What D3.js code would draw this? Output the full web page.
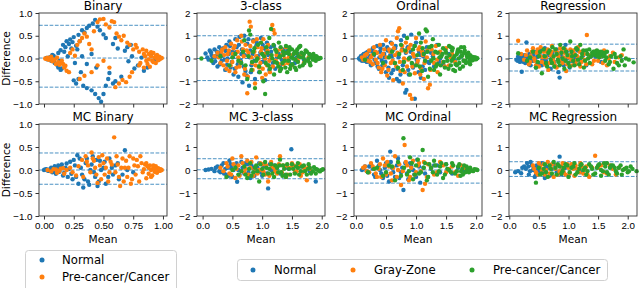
<!DOCTYPE html>
<html>
<head>
<meta charset="utf-8">
<script src="https://cdn.jsdelivr.net/npm/d3@7"></script>
<style>
  body { margin: 0; background: #fff; }
  svg { display: block; font-family: "DejaVu Sans", sans-serif; }
  .tick text { font-size: 9.8px; fill: #000; }
  .tick line, .domain { stroke: #333; }
</style>
</head>
<body>
<div id="chart"></div>
<script>
// panel titles and legend names
const titles = ["Binary", "3-class", "Ordinal", "Regression", "MC Binary", "MC 3-class", "MC Ordinal", "MC Regression"]
const binaryNames = ["Normal", "Pre-cancer/Cancer"]
const threeNames = ["Normal", "Gray-Zone", "Pre-cancer/Cancer"]
const binTicksX = [0, 0.25, 0.5, 0.75, 1]
const binTicksY = [-1, -0.5, 0, 0.5, 1]
const numTicksX = [0, 0.5, 1, 1.5, 2]
const numTicksY = [-2, -1, 0, 1, 2]

// dashed lines per panel: [upper, mean, lower]
const limitLines = [
  [0.73, 0.01, -0.63], [1.0, 0.0, -0.97], [0.99, -0.01, -1.03], [0.63, 0.0, -0.55],
  [0.37, 0.0, -0.31], [0.49, 0.01, -0.38], [0.61, 0.0, -0.57], [0.36, 0.0, -0.28]
]

// [mean, difference]
const binNormal = [[0.02,0.01],[0.03,-0.02],[0.05,0.03],[0.06,-0.05],[0.08,0.06],[0.09,-0.1],[0.11,-0.14],[0.12,-0.2],[0.13,-0.05],[0.14,-0.25],[0.15,-0.22],
  [0.12,0.12],[0.14,0.18],[0.16,0.3],[0.18,0.25],[0.19,0.38],[0.21,0.32],[0.22,0.42],[0.24,0.36],[0.25,0.47],[0.27,0.28],[0.28,0.2],[0.3,0.38],
  [0.34,0.57],[0.36,0.67],[0.38,0.72],[0.41,0.77],[0.43,0.85],[0.45,0.7],[0.47,0.62],[0.5,0.53],[0.52,0.45],
  [0.25,-0.48],[0.27,-0.55],[0.29,-0.45],[0.31,-0.3],[0.33,-0.6],[0.36,-0.65],[0.4,-0.7],[0.43,-0.78],[0.46,-0.87],[0.48,-0.95],[0.5,-0.78],[0.52,-0.6],[0.54,-0.45],[0.55,-0.32],[0.58,-0.55],[0.6,-0.5],
  [0.32,0.05],[0.36,-0.12],[0.4,0.1],[0.44,-0.2],[0.58,0.32],[0.6,0.45],[0.62,0.22],
  [0.68,0.17],[0.71,-0.06],[0.73,0.3],[0.76,-0.22],[0.79,-0.15],[0.82,0.02],[0.84,-0.27],[0.87,-0.2],[0.9,0.08],[0.93,-0.05],
  [0.04,0.0],[0.07,0.08],[0.1,0.02],[0.17,0.15],[0.2,0.05],[0.23,0.22],[0.26,-0.1],[0.29,0.52],[0.32,0.62],[0.65,-0.4],[0.7,0.25],[0.74,0.05]]
const binCancer = [[0.01,0.0],[0.03,0.02],[0.04,-0.03],[0.06,0.04],[0.07,-0.06],[0.09,-0.03],[0.1,-0.12],[0.12,-0.08],[0.14,-0.1],[0.16,-0.12],[0.18,-0.16],[0.19,-0.27],
  [0.22,0.12],[0.24,0.2],[0.26,0.06],[0.28,0.3],[0.3,0.38],[0.32,0.45],[0.34,0.55],[0.36,0.48],[0.38,0.32],[0.4,0.2],[0.42,0.6],
  [0.45,0.8],[0.47,0.86],[0.5,0.87],[0.52,0.75],[0.55,0.68],[0.57,0.82],[0.59,0.8],
  [0.61,0.55],[0.63,0.48],[0.65,0.4],[0.67,0.5],[0.7,0.35],[0.72,0.3],[0.75,0.2],
  [0.21,-0.3],[0.3,-0.45],[0.34,-0.38],[0.4,-0.3],[0.45,-0.15],[0.5,-0.05],[0.55,-0.2],[0.6,-0.63],[0.63,-0.55],[0.66,-0.47],[0.69,-0.52],[0.72,-0.4],
  [0.78,0.24],[0.8,0.15],[0.81,-0.1],[0.83,0.2],[0.84,-0.2],[0.85,0.05],[0.86,0.17],[0.87,-0.12],[0.88,0.1],[0.89,-0.18],[0.9,0.14],[0.91,-0.05],[0.92,0.12],[0.93,0.02],[0.94,-0.1],[0.95,0.08],[0.96,-0.04],[0.97,0.04],[0.98,0.0],[0.99,0.01],[0.95,0.0],[0.97,-0.02],
  [0.02,-0.01],[0.05,0.0],[0.08,-0.02],[0.11,0.02],[0.13,-0.14],[0.15,-0.05],[0.17,-0.2],[0.84,0.1],[0.86,-0.05],[0.88,-0.02],[0.9,0.05],[0.92,-0.08],[0.94,0.05],[0.96,0.02],[0.74,-0.3],[0.77,0.3],[0.8,-0.15]]

const c3Normal = [[0.05,0.22],[0.08,0.05],[0.1,-0.05],[0.12,0.35],[0.15,0.15],[0.18,-0.2],[0.2,0.4],[0.22,0.1],[0.25,-0.35],[0.28,0.5],[0.3,0.25],[0.32,-0.1],[0.35,0.45],[0.38,-0.5],[0.4,0.6],[0.42,0.0],[0.45,0.75],[0.47,-0.4],[0.5,0.3],[0.52,-0.7],[0.55,0.85],[0.57,0.5],[0.6,-0.8],[0.62,0.95],[0.65,0.2],[0.67,-1.05],[0.7,1.0],[0.72,-0.55],[0.75,0.65],[0.78,-1.2],[0.8,0.35],[0.82,-0.3],[0.85,0.8],[0.88,-0.9],[0.9,0.55],[0.93,0.1],[0.95,-0.6],[0.98,0.9],[1.0,-0.15],[1.03,0.45],[1.05,-0.95],[1.08,0.7],[1.1,0.15],[1.12,-0.5],[1.15,0.3],[1.18,-0.2],[1.2,0.55],[1.25,0.05],[1.3,-0.3],[1.35,0.4],[1.4,0.25],[1.45,-0.1],[1.5,0.1],[1.55,-0.2],[1.6,0.2],[1.7,-0.05],[1.8,0.1],
  [0.14,0.28],[0.17,0.05],[0.21,-0.12],[0.24,0.3],[0.27,0.18],[0.29,-0.25],[0.31,0.42],[0.34,0.12],[0.37,-0.05],[0.39,0.33],[0.41,-0.28],[0.44,0.2],[0.46,0.55],[0.49,-0.15],[0.51,0.05],[0.54,-0.45],[0.56,0.28],[0.59,-0.25],[0.61,0.6],[0.64,-0.1],[0.66,0.4],[0.69,-0.35],[0.71,0.15],[0.74,-0.75],[0.77,0.85],[0.79,0.05],[0.81,-0.6],[0.84,0.2],[0.87,-0.1],[0.91,0.7],[0.94,-0.35],[0.97,0.25],[1.01,0.6],[1.04,-0.05],[1.07,0.35],[1.11,-0.3],[1.14,0.5],[1.22,-0.45],[1.28,0.2],[1.33,-0.05],[1.42,0.35],[1.48,-0.25],[1.58,0.05]]
const c3Gray = [[0.2,0.1],[0.25,0.25],[0.3,-0.2],[0.33,0.4],[0.35,-0.3],[0.38,0.5],[0.4,-0.45],[0.42,0.2],[0.45,-0.55],[0.48,0.65],[0.5,-0.15],[0.52,0.45],[0.55,-0.6],[0.58,0.8],[0.6,0.05],[0.62,-0.35],[0.65,1.0],[0.68,0.4],[0.7,-0.7],[0.72,0.6],[0.75,-1.53],[0.77,0.25],[0.79,1.62],[0.81,1.4],[0.83,-0.2],[0.85,0.75],[0.88,-1.1],[0.9,0.1],[0.92,0.5],[0.95,-0.4],[0.98,0.3],[1.0,-0.85],[1.02,0.85],[1.05,0.0],[1.08,-0.3],[1.1,0.6],[1.13,-0.6],[1.17,1.47],[1.19,1.25],[1.21,1.1],[1.23,-0.1],[1.26,0.35],[1.3,-0.5],[1.33,0.15],[1.36,-0.25],[1.4,0.5],[1.45,0.05],[1.5,-0.3],[1.55,0.25],[1.6,-0.1],[1.65,0.15],[1.7,-0.2],[1.78,0.05],[1.85,0.1],[1.92,0.0],
  [0.27,0.05],[0.32,0.3],[0.36,0.15],[0.41,-0.1],[0.44,0.35],[0.47,-0.3],[0.51,0.2],[0.54,0.55],[0.57,-0.4],[0.59,0.3],[0.63,-0.15],[0.66,0.75],[0.69,0.1],[0.71,-0.45],[0.74,0.35],[0.76,-0.8],[0.8,0.55],[0.82,0.05],[0.84,-0.5],[0.87,0.3],[0.89,-0.3],[0.91,0.85],[0.94,0.0],[0.97,-0.2],[0.99,0.45],[1.01,-0.45],[1.04,0.2],[1.06,-0.7],[1.09,0.35],[1.12,-0.1],[1.15,0.05],[1.18,-0.35],[1.24,0.15],[1.28,-0.25],[1.32,0.4],[1.38,0.0],[1.43,-0.2],[1.48,0.15],[1.58,-0.05],[1.68,0.1]]
const c3Cancer = [[-0.02,0.0],[0.15,-0.1],[0.3,0.1],[0.45,-0.3],[0.55,0.2],[0.65,-0.2],[0.7,0.8],[0.75,-0.9],[0.78,1.23],[0.8,1.05],[0.82,-0.5],[0.85,0.3],[0.88,-1.3],[0.9,-0.1],[0.93,0.6],[0.96,-0.6],[1.0,0.2],[1.02,-1.0],[1.05,-1.56],[1.07,0.5],[1.1,-0.3],[1.12,0.9],[1.15,1.3],[1.17,0.0],[1.2,-0.7],[1.22,0.4],[1.25,-0.2],[1.28,0.7],[1.3,0.1],[1.32,-0.45],[1.35,0.3],[1.38,-0.1],[1.4,0.55],[1.42,-0.6],[1.45,0.2],[1.48,-0.3],[1.5,0.4],[1.52,0.0],[1.55,-0.4],[1.58,0.25],[1.6,-0.15],[1.62,0.5],[1.65,0.05],[1.68,-0.3],[1.7,0.2],[1.72,-0.1],[1.75,0.3],[1.78,0.0],[1.8,-0.2],[1.82,0.15],[1.85,-0.05],[1.88,0.1],[1.9,-0.1],[1.93,0.05],[1.96,0.0],[1.98,0.02],[1.45,0.35],[1.55,0.3],[1.3,-0.55],
  [0.5,0.05],[0.6,-0.1],[0.68,0.3],[0.72,-0.3],[0.77,0.1],[0.83,-0.15],[0.87,0.45],[0.92,0.0],[0.95,-0.35],[0.98,0.7],[1.03,0.1],[1.06,-0.2],[1.09,0.25],[1.13,-0.45],[1.16,0.15],[1.19,0.6],[1.21,-0.15],[1.24,0.3],[1.27,-0.35],[1.29,0.05],[1.31,0.5],[1.34,-0.2],[1.36,0.15],[1.39,-0.4],[1.41,0.25],[1.44,-0.1],[1.46,0.5],[1.49,0.05],[1.51,-0.25],[1.53,0.2],[1.56,-0.05],[1.59,0.4],[1.61,0.1],[1.63,-0.35],[1.66,0.25],[1.69,0.05],[1.71,-0.2],[1.73,0.35],[1.77,-0.1],[1.79,0.2],[1.81,-0.3],[1.83,0.05],[1.86,0.2],[1.89,-0.05],[1.91,0.1],[1.94,-0.02],[1.57,-0.5],[1.47,-0.45],[1.64,0.55]]

const ordNormal = [[0.05,0.0],[0.08,0.1],[0.1,-0.1],[0.13,0.2],[0.15,0.05],[0.18,-0.15],[0.2,0.3],[0.23,0.1],[0.25,-0.3],[0.28,0.45],[0.3,0.15],[0.33,-0.2],[0.35,0.55],[0.38,-0.45],[0.4,0.3],[0.43,-0.1],[0.45,0.6],[0.48,0.05],[0.5,-0.6],[0.53,0.35],[0.55,-0.85],[0.58,0.7],[0.6,0.1],[0.62,-0.5],[0.65,0.45],[0.68,-0.9],[0.7,0.2],[0.72,-1.0],[0.75,0.8],[0.78,-0.3],[0.8,1.0],[0.82,-1.5],[0.84,-1.38],[0.86,0.5],[0.88,-0.7],[0.9,0.05],[0.92,1.05],[0.95,-0.4],[0.98,-1.77],[1.0,0.7],[1.02,-0.2],[1.05,0.3],[1.08,-0.85],[1.1,0.9],[1.12,0.1],[1.15,-0.5],[1.18,0.5],[1.2,-0.15],[1.25,0.25],[1.3,-0.35],[1.35,0.6],[1.4,0.0],[1.45,-0.25],[1.55,0.2],[1.65,-0.1],[1.75,0.1],
  [0.07,-0.05],[0.11,0.15],[0.14,-0.1],[0.17,0.25],[0.21,0.0],[0.24,-0.2],[0.27,0.3],[0.31,-0.05],[0.34,0.25],[0.36,-0.35],[0.39,0.05],[0.41,0.45],[0.44,-0.3],[0.47,0.2],[0.49,-0.15],[0.52,0.5],[0.54,-0.4],[0.57,0.15],[0.59,-0.65],[0.61,0.35],[0.64,-0.2],[0.66,0.55],[0.69,-0.45],[0.71,0.05],[0.74,-0.7],[0.77,0.4],[0.79,-0.15],[0.83,0.25],[0.87,-0.5],[0.91,0.3],[0.94,-0.25],[0.97,0.55],[1.01,-0.05],[1.04,-0.6],[1.07,0.15],[1.11,-0.35],[1.16,0.3],[1.22,-0.2],[1.28,0.1],[1.38,-0.15]]
const ordGray = [[0.1,0.05],[0.12,-0.05],[0.15,0.15],[0.2,-0.1],[0.22,0.35],[0.25,0.05],[0.28,-0.25],[0.3,0.5],[0.33,-0.05],[0.35,0.25],[0.38,-0.4],[0.4,0.6],[0.42,-0.6],[0.45,0.2],[0.48,-0.3],[0.5,0.8],[0.52,-0.75],[0.55,0.4],[0.58,-0.2],[0.6,0.65],[0.62,-0.95],[0.65,0.15],[0.68,0.9],[0.7,1.2],[0.72,1.33],[0.74,-0.55],[0.76,0.35],[0.78,-1.1],[0.8,0.0],[0.83,0.7],[0.85,-0.35],[0.88,0.45],[0.9,-1.6],[0.93,-1.77],[0.95,0.2],[0.98,-0.65],[1.0,0.9],[1.03,-0.1],[1.06,0.5],[1.08,-0.45],[1.1,0.3],[1.13,-0.9],[1.16,0.75],[1.18,0.05],[1.2,-1.31],[1.23,-1.15],[1.26,0.4],[1.3,-0.2],[1.33,0.55],[1.36,-0.6],[1.4,0.3],[1.45,-0.15],[1.5,0.45],[1.55,-0.3],[1.6,0.2],[1.7,0.35],[1.8,-0.1],
  [0.14,0.0],[0.18,0.2],[0.24,-0.15],[0.27,0.15],[0.32,0.3],[0.36,-0.2],[0.41,0.1],[0.44,-0.45],[0.47,0.4],[0.51,0.05],[0.54,-0.5],[0.57,0.3],[0.61,-0.1],[0.63,0.45],[0.67,-0.35],[0.69,0.25],[0.73,-0.15],[0.77,0.55],[0.81,-0.6],[0.84,0.3],[0.87,-0.05],[0.91,0.6],[0.94,-0.35],[0.97,0.1],[1.01,-0.25],[1.04,0.4],[1.07,-0.7],[1.11,0.15],[1.14,-0.2],[1.19,0.35],[1.24,-0.5],[1.29,0.2],[1.35,-0.05],[1.42,0.2],[1.48,-0.35],[1.57,0.05],[1.65,-0.15]]
const ordCancer = [[0.15,-0.05],[0.3,0.2],[0.45,-0.2],[0.6,0.3],[0.7,-0.4],[0.75,0.6],[0.8,-0.15],[0.85,0.9],[0.9,-0.7],[0.95,0.4],[1.0,-0.3],[1.05,1.1],[1.08,0.7],[1.1,-0.55],[1.13,0.2],[1.16,1.28],[1.18,1.2],[1.2,-0.8],[1.22,0.5],[1.25,-0.1],[1.28,0.85],[1.3,-0.5],[1.32,0.3],[1.35,-0.25],[1.38,0.6],[1.4,-0.7],[1.42,0.1],[1.45,0.45],[1.48,-0.4],[1.5,0.25],[1.52,-0.1],[1.55,0.55],[1.58,-0.3],[1.6,0.35],[1.62,0.0],[1.65,-0.55],[1.68,0.2],[1.7,0.4],[1.72,-0.2],[1.74,0.3],[1.76,0.1],[1.78,-0.35],[1.8,0.25],[1.82,-0.1],[1.84,0.2],[1.86,0.05],[1.88,-0.15],[1.9,0.15],[1.92,0.0],[1.94,-0.08],[1.96,0.06],[1.98,0.02],[2.0,-0.03],[2.02,0.01],[1.75,0.5],[1.68,-0.3],[1.58,0.5],
  [0.55,0.05],[0.65,-0.2],[0.72,0.2],[0.78,-0.5],[0.82,0.35],[0.88,0.0],[0.93,-0.2],[0.98,0.55],[1.02,0.15],[1.06,-0.35],[1.11,0.45],[1.15,-0.1],[1.19,0.3],[1.23,-0.45],[1.26,0.55],[1.29,0.0],[1.33,-0.35],[1.36,0.25],[1.39,0.05],[1.41,-0.3],[1.44,0.2],[1.46,-0.15],[1.49,0.35],[1.51,0.05],[1.54,-0.45],[1.56,0.15],[1.59,-0.1],[1.61,0.45],[1.64,0.1],[1.66,-0.25],[1.69,0.3],[1.71,0.0],[1.73,-0.45],[1.77,0.15],[1.79,-0.1],[1.81,0.35],[1.83,-0.2],[1.85,0.1],[1.87,0.25],[1.89,0.0],[1.91,-0.1],[1.93,0.08],[1.95,0.0],[1.97,-0.04],[1.99,0.05],[1.9,-0.25],[1.8,0.5],[1.62,-0.5]]

const regNormal = [[0.12,-0.05],[0.15,0.1],[0.18,-0.15],[0.2,0.05],[0.21,-0.58],[0.23,-0.1],[0.25,0.15],[0.27,-0.2],[0.29,0.71],[0.3,0.0],[0.32,-0.12],[0.34,0.2],[0.36,-0.3],[0.38,0.05],[0.4,-0.1],[0.42,0.3],[0.45,-0.4],[0.48,0.1],[0.5,-0.2],[0.53,0.35],[0.56,-0.05],[0.6,0.45],[0.63,-0.3],[0.66,0.15],[0.7,-0.45],[0.73,0.25],[0.76,-0.15],[0.8,0.4],[0.83,-0.6],[0.85,-0.84],[0.88,0.1],[0.92,-0.3],[0.95,0.6],[0.98,0.0],[1.02,-0.4],[1.06,0.2],[1.1,-0.2],[1.15,0.35],[1.2,-0.1],[1.25,0.15],[1.3,-0.3],[1.35,0.05],[1.45,0.1],[1.55,-0.15],
  [0.14,-0.1],[0.16,0.05],[0.19,-0.05],[0.22,0.1],[0.24,-0.15],[0.26,0.0],[0.28,-0.05],[0.31,0.1],[0.33,-0.25],[0.35,0.05],[0.37,-0.1],[0.41,0.15],[0.44,0.0],[0.47,-0.25],[0.51,0.2],[0.55,-0.3],[0.58,0.1],[0.62,-0.1],[0.68,0.3],[0.71,0.0],[0.78,-0.35],[0.82,0.15],[0.9,-0.15],[0.97,0.3],[1.05,-0.1],[1.12,0.05]]
const regGray = [[0.15,0.78],[0.2,0.2],[0.25,-0.05],[0.3,0.35],[0.33,-0.25],[0.36,0.1],[0.4,0.45],[0.43,-0.1],[0.46,0.25],[0.5,-0.35],[0.53,0.5],[0.56,0.05],[0.6,-0.25],[0.63,0.3],[0.66,-0.5],[0.7,0.15],[0.72,0.55],[0.75,-0.15],[0.78,0.35],[0.8,-0.4],[0.83,0.1],[0.86,0.45],[0.9,-0.2],[0.93,0.25],[0.96,-0.55],[1.0,0.05],[1.03,0.4],[1.06,-0.3],[1.1,0.2],[1.13,-0.1],[1.16,0.5],[1.2,-0.35],[1.23,0.3],[1.27,-0.05],[1.31,1.03],[1.35,0.15],[1.4,-0.25],[1.45,0.3],[1.5,-0.1],[1.55,0.1],[1.6,0.35],[1.65,-0.3],[1.7,0.1],[1.78,-0.15],[1.85,0.05],[1.9,0.15],
  [0.28,0.15],[0.35,-0.15],[0.38,0.3],[0.42,0.0],[0.45,-0.3],[0.48,0.4],[0.52,0.1],[0.55,-0.15],[0.58,0.3],[0.62,0.05],[0.65,0.4],[0.68,-0.2],[0.71,0.3],[0.74,0.0],[0.77,-0.3],[0.81,0.25],[0.85,-0.1],[0.88,0.3],[0.92,0.05],[0.95,0.4],[0.98,-0.25],[1.02,0.15],[1.05,-0.05],[1.08,0.35],[1.12,-0.25],[1.15,0.1],[1.19,0.3],[1.22,-0.15],[1.26,0.2],[1.3,-0.25],[1.38,0.1],[1.43,-0.1],[1.52,0.25],[1.58,-0.2],[1.68,0.0],[1.75,0.25]]
const regCancer = [[0.15,0.23],[0.3,-0.1],[0.4,0.3],[0.45,-0.4],[0.5,0.1],[0.55,-0.65],[0.58,0.4],[0.62,-0.2],[0.66,0.25],[0.7,-0.05],[0.73,0.5],[0.76,-0.35],[0.8,0.2],[0.83,-0.15],[0.86,0.6],[0.9,0.0],[0.93,-0.45],[0.96,0.3],[1.0,-0.2],[1.03,0.75],[1.06,0.1],[1.1,-0.3],[1.13,0.45],[1.16,-0.05],[1.2,0.6],[1.23,0.2],[1.26,-0.4],[1.3,0.35],[1.33,0.0],[1.36,-0.2],[1.4,0.25],[1.42,0.3],[1.45,0.15],[1.48,0.35],[1.5,0.2],[1.52,0.05],[1.55,0.3],[1.58,0.15],[1.6,0.25],[1.62,-0.1],[1.65,0.3],[1.68,-0.25],[1.72,0.1],[1.76,-0.45],[1.8,0.05],[1.85,-0.3],[1.9,-0.1],[1.93,0.4],[1.97,0.0],[2.02,-0.05],[2.1,-0.17],
  [0.35,0.05],[0.48,-0.15],[0.52,0.3],[0.6,0.1],[0.64,-0.35],[0.68,0.35],[0.72,-0.2],[0.75,0.1],[0.78,0.4],[0.82,-0.05],[0.85,-0.3],[0.88,0.25],[0.92,0.45],[0.95,-0.1],[0.98,0.15],[1.02,-0.35],[1.05,0.3],[1.08,-0.1],[1.12,0.15],[1.15,0.4],[1.18,-0.25],[1.22,0.05],[1.25,0.35],[1.28,-0.1],[1.32,0.2],[1.35,0.4],[1.38,0.1],[1.41,0.2],[1.44,0.3],[1.46,0.25],[1.49,0.1],[1.51,0.3],[1.54,0.2],[1.57,0.25],[1.59,0.1],[1.61,0.2],[1.64,0.05],[1.7,-0.15],[1.78,0.2],[1.82,-0.2],[1.88,0.1],[1.95,-0.3]]

const mcBinNormal = [[0.0,0.0],[0.02,0.02],[0.04,-0.02],[0.06,0.05],[0.07,-0.05],[0.09,0.08],[0.1,-0.08],[0.12,0.1],[0.13,-0.04],[0.15,0.12],[0.16,-0.12],[0.18,0.05],[0.2,-0.15],[0.22,0.18],[0.24,-0.2],[0.26,0.1],[0.28,0.32],[0.29,-0.3],[0.3,0.25],[0.32,-0.1],[0.33,-0.38],[0.35,0.15],[0.37,-0.25],[0.39,0.0],[0.41,0.3],[0.43,-0.15],[0.45,-0.35],[0.47,0.2],[0.5,0.05],[0.52,-0.3],[0.55,0.25],[0.58,-0.1],[0.6,0.1],[0.63,-0.2],[0.68,0.43],[0.7,0.0],[0.75,-0.05],
  [0.01,0.01],[0.03,-0.01],[0.05,0.02],[0.08,-0.04],[0.11,0.03],[0.14,0.06],[0.17,-0.06],[0.19,0.14],[0.21,0.02],[0.23,-0.08],[0.25,0.22],[0.27,-0.15],[0.31,0.05],[0.34,-0.2],[0.36,0.25],[0.38,-0.32],[0.4,0.12],[0.42,-0.05],[0.44,0.22],[0.46,-0.25],[0.48,0.0],[0.51,0.18],[0.54,-0.15],[0.57,0.05],[0.62,0.15],[0.66,-0.1]]
const mcBinCancer = [[0.03,0.0],[0.06,-0.03],[0.08,0.02],[0.11,-0.06],[0.14,0.03],[0.17,-0.08],[0.22,0.05],[0.27,-0.12],[0.32,0.22],[0.35,0.3],[0.37,0.1],[0.4,0.38],[0.42,0.2],[0.44,-0.1],[0.46,0.28],[0.48,-0.2],[0.5,0.15],[0.52,0.05],[0.54,-0.25],[0.56,0.18],[0.59,0.71],[0.6,-0.05],[0.62,0.12],[0.64,-0.35],[0.66,0.25],[0.68,0.05],[0.7,-0.15],[0.72,0.3],[0.74,-0.2],[0.76,0.1],[0.78,0.22],[0.8,-0.25],[0.82,0.15],[0.83,-0.05],[0.85,0.12],[0.86,-0.18],[0.87,0.08],[0.88,-0.08],[0.89,0.1],[0.9,0.0],[0.91,-0.12],[0.92,0.06],[0.93,-0.04],[0.94,0.08],[0.95,-0.06],[0.96,0.04],[0.97,-0.02],[0.98,0.02],[0.99,0.0],[0.93,0.03],[0.96,-0.01],
  [0.1,0.01],[0.13,-0.02],[0.16,0.04],[0.19,0.0],[0.24,-0.05],[0.29,0.08],[0.33,-0.15],[0.36,0.18],[0.39,-0.05],[0.41,0.25],[0.43,0.05],[0.45,-0.28],[0.47,0.1],[0.49,0.32],[0.51,-0.1],[0.53,0.25],[0.55,-0.05],[0.57,0.12],[0.61,0.3],[0.63,-0.15],[0.65,0.05],[0.67,-0.25],[0.69,0.2],[0.71,0.05],[0.73,-0.3],[0.75,0.25],[0.77,-0.1],[0.79,0.08],[0.81,0.3],[0.84,0.02],[0.86,0.15],[0.88,0.05],[0.9,-0.15],[0.92,0.1],[0.94,-0.03],[0.97,0.01],[0.98,-0.01]]

const mc3Normal = [[0.05,0.0],[0.1,0.02],[0.2,-0.05],[0.25,0.15],[0.3,-0.1],[0.35,0.3],[0.38,0.05],[0.4,-0.2],[0.45,0.4],[0.48,0.1],[0.5,-0.3],[0.55,0.2],[0.58,-0.51],[0.6,0.0],[0.65,0.35],[0.7,-0.15],[0.75,0.25],[0.8,-0.35],[0.85,0.1],[0.9,-0.05],[0.95,0.3],[1.0,-0.25],[1.05,0.15],[1.1,-0.8],[1.15,0.0],[1.2,0.2],[1.3,-0.15],[1.4,0.1],[1.49,0.9],[1.55,-0.1],[1.65,0.15],[1.8,-0.05],[1.9,-0.5],
  [0.15,0.05],[0.22,0.1],[0.28,-0.05],[0.32,0.2],[0.36,-0.15],[0.42,0.1],[0.44,-0.25],[0.47,0.25],[0.52,0.0],[0.57,0.3],[0.62,-0.2],[0.67,0.1],[0.72,0.3],[0.77,-0.1],[0.82,0.2],[0.87,-0.25],[0.92,0.1],[0.97,-0.1],[1.02,0.2],[1.08,-0.15],[1.13,0.25],[1.18,-0.05],[1.25,0.1],[1.35,-0.2],[1.45,0.05]]
const mc3Gray = [[0.3,0.1],[0.4,0.3],[0.45,-0.15],[0.5,0.5],[0.55,-0.35],[0.6,0.2],[0.65,0.6],[0.7,-0.1],[0.75,0.4],[0.8,0.1],[0.85,-0.25],[0.9,0.55],[0.95,0.0],[1.0,0.25],[1.05,-0.2],[1.1,-0.5],[1.15,0.35],[1.2,0.1],[1.25,-0.15],[1.3,0.6],[1.35,0.2],[1.4,-0.3],[1.45,0.1],[1.5,0.3],[1.55,-0.1],[1.6,0.15],[1.65,-0.25],[1.7,0.1],[1.75,-0.45],[1.8,0.05],
  [0.35,-0.05],[0.42,0.15],[0.48,-0.2],[0.52,0.25],[0.57,0.05],[0.62,-0.25],[0.67,0.3],[0.72,0.05],[0.77,-0.2],[0.82,0.35],[0.87,0.05],[0.92,-0.15],[0.97,0.3],[1.02,-0.05],[1.07,0.2],[1.12,-0.25],[1.17,0.15],[1.22,-0.05],[1.28,0.25],[1.33,-0.1],[1.38,0.15],[1.43,-0.2],[1.48,0.1],[1.53,0.2],[1.58,-0.05],[1.63,0.25],[1.68,-0.1],[1.73,0.05],[1.78,0.15]]
const mc3Cancer = [[0.4,-0.3],[0.5,0.0],[0.6,-0.2],[0.7,0.15],[0.75,-0.35],[0.8,0.3],[0.85,-0.1],[0.9,0.2],[0.95,-0.5],[1.0,0.05],[1.05,0.35],[1.1,-0.15],[1.15,0.25],[1.2,-0.3],[1.25,0.1],[1.3,0.45],[1.32,-0.1],[1.35,0.2],[1.4,-0.2],[1.45,0.05],[1.5,0.25],[1.55,-0.15],[1.6,0.1],[1.65,-0.05],[1.7,0.2],[1.75,-0.2],[1.8,0.1],[1.85,-0.05],[1.9,0.05],[1.95,-0.02],[2.0,0.0],[1.9,-0.15],[1.78,0.25],
  [0.55,0.1],[0.65,-0.05],[0.72,-0.2],[0.78,0.05],[0.82,-0.25],[0.88,0.1],[0.92,-0.05],[0.97,0.25],[1.02,-0.2],[1.07,0.1],[1.12,0.05],[1.17,-0.15],[1.22,0.2],[1.27,-0.1],[1.29,0.2],[1.34,-0.25],[1.37,0.05],[1.42,0.25],[1.47,-0.2],[1.52,0.05],[1.57,0.15],[1.62,-0.2],[1.67,0.15],[1.72,-0.05],[1.77,0.05],[1.82,-0.15],[1.87,0.12],[1.92,0.02],[1.97,-0.06],[2.02,0.03],[1.6,0.3],[1.4,-0.3]]

const mcOrdNormal = [[0.1,0.0],[0.15,0.15],[0.2,-0.1],[0.25,0.25],[0.3,-0.2],[0.35,0.4],[0.4,0.0],[0.45,-0.35],[0.5,0.3],[0.55,-0.5],[0.57,0.8],[0.6,0.1],[0.65,-0.3],[0.7,0.5],[0.75,-0.1],[0.79,-0.87],[0.82,0.3],[0.87,-0.4],[0.92,0.15],[0.97,-0.2],[1.02,0.45],[1.07,-0.55],[1.12,0.1],[1.2,-0.3],[1.3,0.2],[1.4,-0.1],[1.5,0.25],[1.6,-0.15],[1.7,0.1],[1.8,-0.05],
  [0.12,0.05],[0.18,-0.05],[0.22,0.15],[0.28,0.05],[0.32,-0.3],[0.38,0.2],[0.42,-0.15],[0.48,0.1],[0.52,-0.25],[0.58,0.35],[0.62,-0.1],[0.68,0.2],[0.72,-0.35],[0.77,0.1],[0.85,-0.15],[0.9,0.3],[0.95,0.0],[1.0,-0.3],[1.05,0.15],[1.15,-0.15],[1.25,0.05],[1.35,0.2]]
const mcOrdGray = [[0.12,0.1],[0.18,-0.05],[0.25,0.3],[0.3,0.05],[0.35,-0.3],[0.4,0.25],[0.45,0.5],[0.5,-0.2],[0.55,0.15],[0.6,-0.45],[0.65,0.6],[0.7,0.0],[0.75,-0.65],[0.81,1.09],[0.85,0.2],[0.9,-0.3],[0.95,0.4],[1.0,-0.1],[1.05,0.3],[1.11,-0.87],[1.15,-0.6],[1.2,0.25],[1.3,-0.2],[1.4,0.35],[1.5,-0.1],[1.6,0.15],[1.7,-0.25],[1.8,0.1],[1.9,0.05],
  [0.15,0.15],[0.22,-0.1],[0.28,0.15],[0.33,-0.15],[0.38,0.05],[0.42,-0.3],[0.48,0.2],[0.52,0.35],[0.58,-0.15],[0.62,0.1],[0.68,-0.3],[0.72,0.25],[0.78,-0.05],[0.83,0.35],[0.88,-0.45],[0.92,0.1],[0.98,-0.2],[1.03,0.2],[1.08,-0.05],[1.13,0.35],[1.18,-0.3],[1.25,0.1],[1.35,-0.1],[1.45,0.2],[1.55,0.05],[1.65,-0.1],[1.75,0.2]]
const mcOrdCancer = [[0.2,-0.1],[0.35,0.1],[0.45,-0.25],[0.55,0.2],[0.65,-0.45],[0.7,0.35],[0.79,1.38],[0.85,-0.2],[0.9,0.55],[0.95,-0.4],[1.0,0.2],[1.05,-0.15],[1.11,0.87],[1.15,0.3],[1.2,-0.3],[1.25,0.1],[1.3,0.4],[1.35,-0.2],[1.4,0.15],[1.45,-0.35],[1.5,0.25],[1.55,0.0],[1.6,0.3],[1.65,-0.15],[1.7,0.15],[1.75,-0.05],[1.8,0.2],[1.85,0.0],[1.9,0.1],[1.95,-0.05],[2.0,0.02],[1.88,-0.1],[1.78,-0.2],
  [0.3,0.05],[0.5,-0.1],[0.6,0.15],[0.75,-0.25],[0.8,0.1],[0.88,-0.05],[0.93,0.3],[0.98,-0.2],[1.03,0.45],[1.08,-0.1],[1.13,0.1],[1.18,-0.45],[1.22,0.25],[1.28,-0.1],[1.32,0.2],[1.38,-0.05],[1.42,0.3],[1.48,-0.2],[1.52,0.05],[1.58,-0.1],[1.62,0.2],[1.68,-0.05],[1.72,0.25],[1.77,0.05],[1.82,-0.1],[1.87,0.05],[1.92,-0.02],[1.97,0.03],[2.02,0.0],[1.84,0.15],[1.74,-0.25]]

const mcRegNormal = [[0.1,-0.1],[0.2,-0.14],[0.25,0.15],[0.28,0.05],[0.3,0.3],[0.33,-0.2],[0.36,0.35],[0.4,0.0],[0.43,-0.3],[0.46,0.2],[0.5,-0.05],[0.55,0.3],[0.6,-0.35],[0.65,0.1],[0.7,-0.2],[0.75,0.25],[0.8,-0.1],[0.85,0.58],[0.9,0.05],[1.0,-0.25],[1.1,0.1],[1.2,-0.1],
  [0.15,-0.05],[0.22,0.1],[0.32,0.15],[0.35,-0.05],[0.38,0.2],[0.42,0.1],[0.45,-0.2],[0.48,0.05],[0.52,0.2],[0.58,-0.1],[0.62,0.15],[0.68,-0.25],[0.72,0.05],[0.78,0.2],[0.88,-0.2],[0.95,0.1]]
const mcRegGray = [[0.4,0.2],[0.45,-0.1],[0.5,0.3],[0.55,0.0],[0.6,-0.2],[0.65,0.35],[0.7,0.1],[0.75,-0.3],[0.8,0.2],[0.85,-0.05],[0.9,0.3],[0.95,-0.2],[1.0,0.1],[1.05,0.25],[1.1,-0.25],[1.15,0.05],[1.2,0.3],[1.25,-0.15],[1.3,0.15],[1.35,-0.3],[1.45,0.62],[1.5,0.1],[1.6,-0.1],[1.7,0.2],[1.8,-0.2],[1.95,0.05],
  [0.42,0.05],[0.48,-0.2],[0.52,0.15],[0.58,0.25],[0.62,0.0],[0.68,-0.15],[0.72,0.25],[0.78,0.05],[0.82,-0.2],[0.88,0.15],[0.92,-0.1],[0.98,0.25],[1.02,-0.15],[1.08,0.05],[1.12,0.2],[1.18,-0.1],[1.22,0.15],[1.28,0.05],[1.32,-0.2],[1.4,0.1],[1.55,0.2],[1.65,-0.15],[1.75,0.05],[1.85,0.1]]
const mcRegCancer = [[0.45,-0.55],[0.5,0.1],[0.55,-0.15],[0.6,0.25],[0.65,-0.3],[0.7,0.05],[0.75,0.35],[0.8,-0.2],[0.85,0.15],[0.9,-0.05],[0.95,0.25],[1.0,-0.3],[1.05,0.1],[1.1,0.3],[1.15,-0.1],[1.2,0.2],[1.25,0.0],[1.3,-0.2],[1.35,0.25],[1.4,0.05],[1.45,-0.15],[1.5,0.2],[1.55,0.0],[1.6,0.3],[1.65,-0.1],[1.7,0.1],[1.75,0.2],[1.8,-0.05],[1.85,0.1],[1.9,-0.2],[1.95,0.05],[2.0,-0.1],[2.05,0.15],[2.15,-0.05],
  [0.52,-0.2],[0.58,0.05],[0.62,-0.1],[0.68,0.2],[0.72,-0.15],[0.78,0.1],[0.82,0.25],[0.88,-0.15],[0.92,0.1],[0.98,0.2],[1.02,-0.1],[1.08,0.15],[1.12,-0.2],[1.18,0.05],[1.22,0.25],[1.28,0.1],[1.32,-0.05],[1.38,0.15],[1.42,-0.2],[1.48,0.1],[1.52,0.25],[1.58,-0.05],[1.62,0.15],[1.68,-0.2],[1.72,0.2],[1.78,0.1],[1.82,-0.15],[1.88,0.2],[1.92,0.0],[1.98,0.1],[2.02,-0.05],[2.08,0.05],[1.65,0.3],[1.55,-0.25]]

const colors = ["#1f77b4", "#ff7f0e", "#2ca02c"]

const seriesByPanel = [
  [binNormal, binCancer], [c3Normal, c3Gray, c3Cancer], [ordNormal, ordGray, ordCancer], [regNormal, regGray, regCancer],
  [mcBinNormal, mcBinCancer], [mc3Normal, mc3Gray, mc3Cancer], [mcOrdNormal, mcOrdGray, mcOrdCancer], [mcRegNormal, mcRegGray, mcRegCancer]
]
// x limits per column (matplotlib auto margins)
const xLims = [[-0.042, 1.034], [-0.094, 2.055], [-0.033, 2.098], [-0.005, 2.157]]

const w = 640, h = 288
const colLeft = [39, 197, 354, 509]
const panelW = 128
const rowTop = [13, 124]
const panelH = [91, 92]

const svg = d3.select("#chart").append("svg")
  .attr("width", w)
  .attr("height", h)

const minus = s => s.replace("-", "\u2212")

titles.forEach((title, i) => {
  const row = Math.floor(i / 4), col = i % 4
  const isBin = col === 0
  const ph = panelH[row]

  const x = d3.scaleLinear().domain(xLims[col]).range([0, panelW])
  const y = d3.scaleLinear().domain(isBin ? [-1, 1] : [-2, 2]).range([ph, 0])

  const g = svg.append("g")
    .attr("transform", `translate(${colLeft[col]},${rowTop[row]})`)

  // dashed limit lines under points
  g.selectAll(".lim")
    .data(limitLines[i])
    .enter()
    .append("line")
    .attr("x1", 0).attr("x2", panelW)
    .attr("y1", d => y(d)).attr("y2", d => y(d))
    .attr("stroke", "#1f77b4")
    .attr("stroke-opacity", 0.8)
    .attr("stroke-width", 1)
    .attr("stroke-dasharray", "3.7,1.6")

  seriesByPanel[i].forEach((pts, s) => {
    g.append("g")
      .selectAll("circle")
      .data(pts)
      .enter()
      .append("circle")
      .attr("cx", d => x(d[0]))
      .attr("cy", d => y(d[1]))
      .attr("r", 2.2)
      .attr("fill", colors[s])
  })

  // box
  g.append("rect")
    .attr("width", panelW).attr("height", ph)
    .attr("fill", "none").attr("stroke", "#333").attr("stroke-width", 0.9)

  const yAxis = d3.axisLeft(y)
    .tickValues(isBin ? binTicksY : numTicksY)
    .tickSize(3.5).tickPadding(3)
    .tickFormat(d => minus(isBin ? d3.format(".1f")(d) : d3.format("d")(d)))
  g.append("g").call(yAxis).call(a => a.select(".domain").remove())

  const xAxis = d3.axisBottom(x)
    .tickValues(isBin ? binTicksX : numTicksX)
    .tickSize(3.5).tickPadding(3)
    .tickFormat(d => row === 0 ? "" : (isBin ? d3.format(".2f")(d) : d3.format(".1f")(d)))
  g.append("g").attr("transform", `translate(0,${ph})`).call(xAxis)
    .call(a => a.select(".domain").remove())

  g.append("text")
    .attr("x", panelW / 2).attr("y", -3.5)
    .attr("text-anchor", "middle")
    .attr("font-size", "12px")
    .text(title)

  if (row === 1) {
    g.append("text")
      .attr("x", panelW / 2).attr("y", ph + 27)
      .attr("text-anchor", "middle")
      .attr("font-size", "10.6px")
      .text("Mean")
  }
  if (col === 0) {
    g.append("text")
      .attr("transform", `translate(${-29},${ph / 2}) rotate(-90)`)
      .attr("text-anchor", "middle")
      .attr("font-size", "10.6px")
      .text("Difference")
  }
})

// legends
const leg1 = svg.append("g")
leg1.append("rect")
  .attr("x", 25.5).attr("y", 250.5).attr("width", 151).attr("height", 46).attr("rx", 3)
  .attr("fill", "#fff").attr("stroke", "#d0d0d0")
const leg1Item = leg1.selectAll(".item")
  .data(binaryNames)
  .enter()
  .append("g")
  .attr("transform", (d, i) => `translate(42,${260 + i * 17})`)
leg1Item.append("circle").attr("r", 2.5).attr("fill", (d, i) => colors[i])
leg1Item.append("text").attr("x", 20).attr("y", 4.2).attr("font-size", "11.7px").text(d => d)

const leg2 = svg.append("g")
leg2.append("rect")
  .attr("x", 237.5).attr("y", 259.5).attr("width", 370).attr("height", 21).attr("rx", 3)
  .attr("fill", "#fff").attr("stroke", "#d0d0d0")
const leg2X = [253, 353, 472]
const leg2Item = leg2.selectAll(".item")
  .data(threeNames)
  .enter()
  .append("g")
  .attr("transform", (d, i) => `translate(${leg2X[i]},270)`)
leg2Item.append("circle").attr("r", 2.5).attr("fill", (d, i) => colors[i])
leg2Item.append("text").attr("x", 21).attr("y", 4.2).attr("font-size", "11.7px").text(d => d)
</script>
</body>
</html>
